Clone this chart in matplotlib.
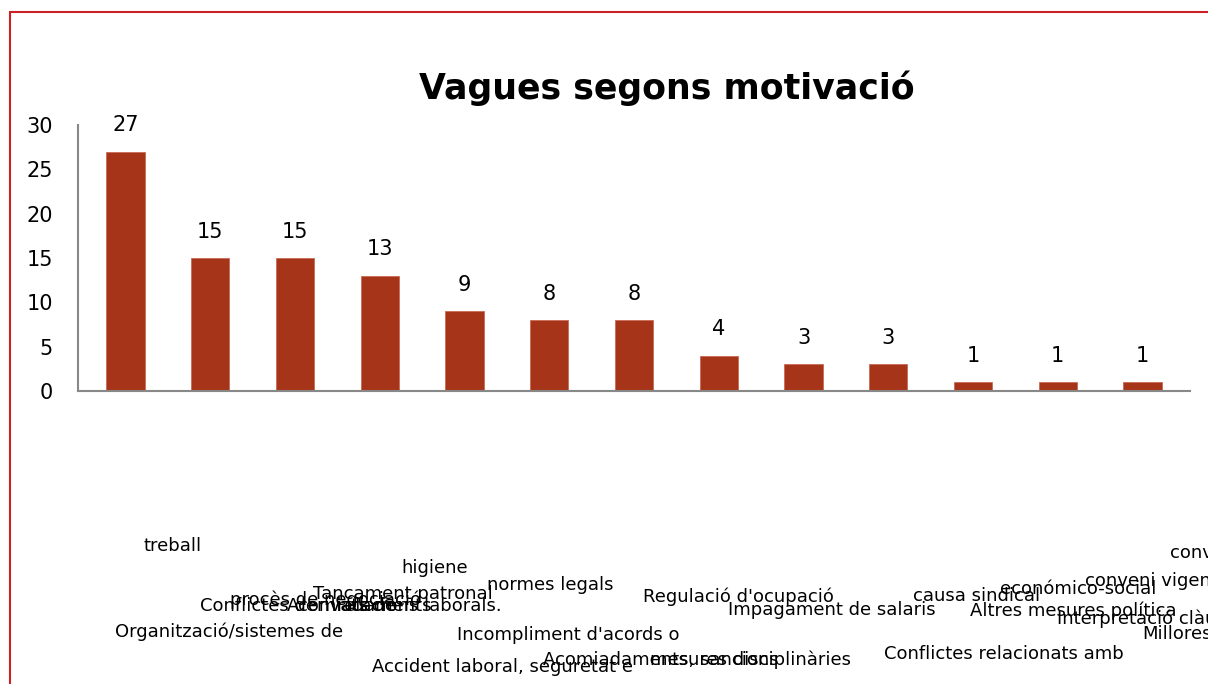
import matplotlib.pyplot as plt
from matplotlib.patches import Rectangle
import numpy as np

plt.rcParams['font.family'] = ['Liberation Sans Narrow', 'DejaVu Sans']

# nombre de vagues per motivació
values = [27, 15, 15, 13, 9, 8, 8, 4, 3, 3, 1, 1, 1]
yticks = [0, 5, 10, 15, 20, 25, 30]
title = 'Vagues segons motivació'

# trossos de les etiquetes de categoria, tal com queden escrits sota l'eix
label_lines = [
    'treball', 'Organització/sistemes de',
    'procès de negociació', 'Conflictes derivats de', 'Acomiadaments', 'relacions laborals.',
    'Tancament patronal',
    'higiene', 'Accident laboral, seguretat e',
    'normes legals', "Incompliment d'acords o",
    'Acomiadaments, sancions', 'mesures disciplinàries',
    "Regulació d'ocupació", 'Impagament de salaris',
    'causa sindical', 'Conflictes relacionats amb',
    'económico-social', 'Altres mesures política',
    'conveni', 'conveni vigent', 'Interpretació clàusules', 'Millores',
]
# posició (x esquerra, y centre) en píxels des de dalt
label_pos = [
    (144, 546), (115, 632),
    (230, 600), (200, 606), (287, 606), (337, 606),
    (313, 594),
    (401, 568), (372, 667),
    (487, 585), (457, 635),
    (543, 660), (650, 660),
    (643, 597), (728, 610),
    (913, 596), (884, 654),
    (1000, 589), (970, 611),
    (1170, 553), (1085, 581), (1057, 619), (1142, 634),
]

W, H = 1208, 684
fig = plt.figure(figsize=(W / 100, H / 100), dpi=100)
ax = fig.add_axes([78 / W, 1 - 391 / H, (1190 - 78) / W, (391 - 125) / H])

x = np.arange(len(values))
bars = ax.bar(x, values, width=0.45, color='#A63418', edgecolor='#c96a55', linewidth=0.6)
for b, v in zip(bars, values):
    ax.annotate(str(v), (b.get_x() + b.get_width() / 2, v), xytext=(0, 19),
                textcoords='offset points', ha='center', va='center', fontsize=15)

ax.set_xlim(-0.56, len(values) - 0.44)
ax.set_ylim(0, 30)
ax.set_yticks(yticks)
ax.tick_params(axis='y', length=0, pad=18, labelsize=15)
ax.set_xticks([])
for s in ['top', 'right']:
    ax.spines[s].set_visible(False)
for s in ['left', 'bottom']:
    ax.spines[s].set_color('#888888')
    ax.spines[s].set_linewidth(1.5)

fig.text(667 / W, 1 - 88 / H, title, ha='center', va='center', fontsize=25, fontweight='bold')

for txt, (px, py) in zip(label_lines, label_pos):
    fig.text(px / W, 1 - py / H, txt, ha='left', va='center', fontsize=13)

# marc vermell
fig.patches.append(Rectangle((10 / W, -0.1), 1.1, 1 - 12 / H + 0.1, transform=fig.transFigure,
                             fill=False, edgecolor='#cc1f26', linewidth=1.5))

fig.savefig('out.png', dpi=100)
